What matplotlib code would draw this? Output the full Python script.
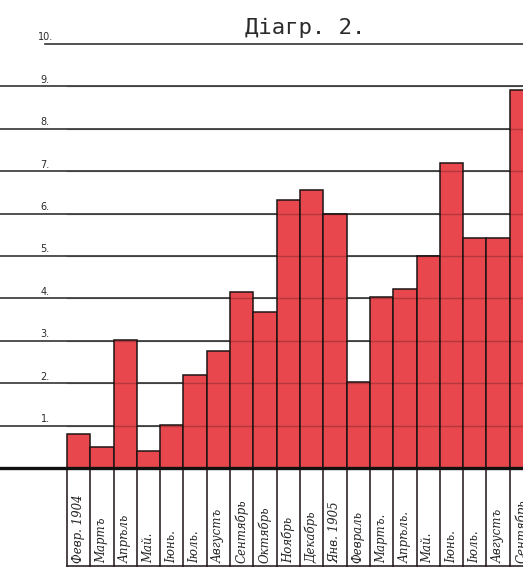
import matplotlib.pyplot as plt

# Діагр. 2 — помісячні значення, лютий 1904 – вересень 1905
mesyatsy = ["Февр. 1904", "Мартъ", "Апрѣль", "Май.", "Іюнь.", "Іюль.",
            "Августъ", "Сентябрь", "Октябрь", "Ноябрь", "Декабрь",
            "Янв. 1905", "Февраль", "Мартъ.", "Апрѣль.", "Май.", "Іюнь.",
            "Іюль.", "Августъ", "Сентябрь"]
znachennya = [0.8, 0.5, 3.02, 0.4, 1.02, 2.2, 2.75, 4.15, 3.68, 6.32, 6.56,
              6.0, 2.02, 4.03, 4.22, 5.0, 7.2, 5.43, 5.43, 8.92]
rivni = [1, 2, 3, 4, 5, 6, 7, 8, 9, 10]

fig = plt.figure(figsize=(5.23, 5.77), dpi=100)
ax = fig.add_axes([0, 0, 1, 1])
ax.set_xlim(-3.375, 19.07)
ax.set_ylim(-2.57, 11.04)
ax.axis("off")

chervonyi = "#e8484d"
x = list(range(len(znachennya)))

# сітка
for r in rivni:
    x0 = -1.45 if r == 10 else -3.375
    ax.plot([x0, 19.07], [r, r], color="#333333", lw=1.2, zorder=1)
    ax.text(-1.44, r + 0.04, f"{r}.", ha="center", va="bottom",
            fontsize=7, color="#2a2a2a", zorder=4)

ax.bar(x, znachennya, width=1.0, color=chervonyi, edgecolor="#1e1414",
       linewidth=1.1, zorder=2)

# лінії сітки просвічують крізь стовпці
for r in rivni[:-1]:
    ax.plot([-0.5, 19.07], [r, r], color="#000000", lw=1.0, alpha=0.22, zorder=3)

# основа
ax.plot([-3.375, 19.07], [0, 0], color="#111111", lw=2.4, zorder=5)

# клітинки з підписами
niz = -2.3
for i in range(len(znachennya) + 1):
    ax.plot([i - 0.5, i - 0.5], [0, niz], color="#1e1414", lw=1.1, zorder=4)
ax.plot([-0.5, 19.07], [niz, niz], color="#1e1414", lw=1.1, zorder=4)
for i, m in enumerate(mesyatsy):
    ax.text(i, niz + 0.07, m, rotation=90, ha="center", va="bottom",
            fontsize=8.5, family="DejaVu Serif", style="italic",
            color="#222222", zorder=4)

fig.text(0.583, 0.952, "Діагр. 2.", ha="center", va="center",
         fontsize=16, family="DejaVu Sans Mono", color="#2a2a2a")

fig.savefig("out.png", dpi=100, facecolor="white")
